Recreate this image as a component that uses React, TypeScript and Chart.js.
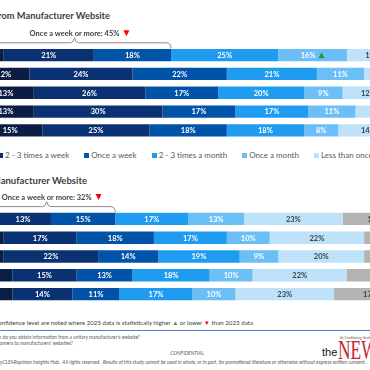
import React, { useEffect, useRef } from "react";
import { Chart, registerables } from "chart.js";

Chart.register(...registerables);

const FONT = "Lato, 'Open Sans', sans-serif";

// ---- series (shared by both charts) ----
const seriesNames = [
  "Daily",
  "2 - 3 times a week",
  "Once a week",
  "2 - 3 times a month",
  "Once a month",
  "Less than once a month",
  "Never",
];
const seriesColors = ["#0B1D44", "#0A3272", "#0053A6", "#1F9CF0", "#6CBEF7", "#BDE2FA", "#B3B3B3"];
const seriesLabelColors = ["#FFFFFF", "#FFFFFF", "#FFFFFF", "#FFFFFF", "#FFFFFF", "#404040", "#404040"];

// ---- top chart: obtain information from manufacturer website ----
const topCategories = ["Row 1", "Row 2", "Row 3", "Row 4", "Row 5"];
const topDaily = [6, 12, 13, 13, 15];
const topTwoThreeWeek = [21, 24, 26, 30, 25];
const topOnceWeek = [18, 22, 17, 17, 18];
const topTwoThreeMonth = [25, 21, 20, 17, 18];
const topOnceMonth = [16, 11, 9, 11, 8];
const topLessMonth = [12, 8, 12, 10, 14];
const topNever = [2, 2, 3, 2, 2];
const topMarks = [
  { series: 0, row: 0, dir: "down" },
  { series: 4, row: 0, dir: "up" },
];
const topBracketDir = "down";

// ---- bottom chart: refer customers to manufacturer website ----
const bottomCategories = ["Row 1", "Row 2", "Row 3", "Row 4", "Row 5"];
const bottomDaily = [4, 6, 6, 8, 8];
const bottomTwoThreeWeek = [13, 17, 22, 15, 14];
const bottomOnceWeek = [15, 18, 14, 13, 11];
const bottomTwoThreeMonth = [17, 17, 19, 18, 17];
const bottomOnceMonth = [13, 10, 9, 10, 10];
const bottomLessMonth = [23, 22, 20, 22, 23];
const bottomNever = [15, 10, 10, 14, 17];
const bottomMarks: { series: number; row: number; dir: string }[] = [];
const bottomBracketDir = "down";

const bracketText = "Once a week or more:";
const bracketSeriesCount = 3;

function drawTriangle(ctx: CanvasRenderingContext2D, x: number, y: number, dir: string, s: number) {
  ctx.save();
  ctx.beginPath();
  if (dir === "down") {
    ctx.moveTo(x, y - s / 2);
    ctx.lineTo(x + s, y - s / 2);
    ctx.lineTo(x + s / 2, y + s / 2);
    ctx.fillStyle = "#FF0000";
  } else {
    ctx.moveTo(x, y + s / 2);
    ctx.lineTo(x + s, y + s / 2);
    ctx.lineTo(x + s / 2, y - s / 2);
    ctx.fillStyle = "#1E9B3A";
  }
  ctx.closePath();
  ctx.fill();
  ctx.restore();
}

const labelPlugin = {
  id: "segLabels",
  afterDatasetsDraw(chart: any, _args: any, opts: any) {
    const ctx: CanvasRenderingContext2D = chart.ctx;
    ctx.save();
    ctx.font = `bold 7.5px ${FONT}`;
    ctx.textBaseline = "middle";
    ctx.textAlign = "left";
    chart.data.datasets.forEach((ds: any, di: number) => {
      const meta = chart.getDatasetMeta(di);
      meta.data.forEach((bar: any, i: number) => {
        const v = ds.data[i];
        const p = bar.getProps(["x", "y", "base"], true);
        const cx = (p.x + p.base) / 2;
        const text = `${v}%`;
        const mark = (opts.marks || []).find((m: any) => m.series === di && m.row === i);
        const tw = ctx.measureText(text).width;
        const tri = 6;
        const total = tw + (mark ? tri + 3 : 0);
        const sx = cx - total / 2;
        ctx.fillStyle = seriesLabelColors[di];
        ctx.fillText(text, sx, p.y + 0.5);
        if (mark) drawTriangle(ctx, sx + tw + 3, p.y, mark.dir, tri);
      });
    });
    ctx.restore();
  },
};

const bracketPlugin = {
  id: "bracket",
  afterDraw(chart: any, _args: any, opts: any) {
    const ctx: CanvasRenderingContext2D = chart.ctx;
    const xs = chart.scales.x;
    const first = chart.data.datasets
      .slice(0, bracketSeriesCount)
      .reduce((s: number, ds: any) => s + ds.data[0], 0);
    const x0 = xs.getPixelForValue(0);
    const x1 = xs.getPixelForValue(first);
    const mid = (x0 + x1) / 2;
    const top = chart.chartArea.top;
    const yl = top - 3;
    ctx.save();
    ctx.strokeStyle = "#8C8C8C";
    ctx.lineWidth = 1;
    ctx.beginPath();
    ctx.moveTo(x0, top + 2.5);
    ctx.quadraticCurveTo(x0, yl, x0 + 5, yl);
    ctx.lineTo(mid - 4, yl);
    ctx.quadraticCurveTo(mid - 1, yl, mid, top - 8);
    ctx.quadraticCurveTo(mid + 1, yl, mid + 4, yl);
    ctx.lineTo(x1 - 5, yl);
    ctx.quadraticCurveTo(x1, yl, x1, top + 2.5);
    ctx.stroke();
    ctx.font = `bold 7.5px ${FONT}`;
    ctx.textBaseline = "middle";
    ctx.textAlign = "center";
    ctx.fillStyle = "#404040";
    const text = `${bracketText} ${first}%`;
    const ty = top - 12.5;
    ctx.fillText(text, mid, ty);
    const tw = ctx.measureText(text).width;
    if (opts.dir) drawTriangle(ctx, mid + tw / 2 + 4, ty, opts.dir, 6);
    ctx.restore();
  },
};

type ChartProps = {
  categories: string[];
  values: number[][];
  marks: { series: number; row: number; dir: string }[];
  bracketDir: string;
  top: number;
  height: number;
  padTop: number;
  padBottom: number;
};

function StackedChart({ categories, values, marks, bracketDir, top, height, padTop, padBottom }: ChartProps) {
  const ref = useRef<HTMLCanvasElement>(null);
  useEffect(() => {
    const chart = new Chart(ref.current as HTMLCanvasElement, {
      type: "bar",
      data: {
        labels: categories,
        datasets: values.map((v, i) => ({
          label: seriesNames[i],
          data: v,
          backgroundColor: seriesColors[i],
          borderWidth: 0,
          barPercentage: 0.655,
          categoryPercentage: 1,
        })),
      },
      options: {
        indexAxis: "y",
        responsive: false,
        animation: false,
        devicePixelRatio: 1,
        layout: { padding: { top: padTop, bottom: padBottom, left: 0, right: 21 } },
        scales: {
          x: { stacked: true, min: 0, max: 100, display: false },
          y: { stacked: true, display: false },
        },
        plugins: {
          legend: { display: false },
          tooltip: { enabled: false },
          segLabels: { marks },
          bracket: { dir: bracketDir },
        } as any,
      },
      plugins: [labelPlugin, bracketPlugin],
    });
    return () => chart.destroy();
  }, []);
  return (
    <canvas
      ref={ref}
      width={450}
      height={height}
      style={{ position: "absolute", left: -22, top, width: 450, height }}
    />
  );
}

export default function App() {
  const textBase: React.CSSProperties = { position: "absolute", whiteSpace: "nowrap", fontFamily: FONT };
  const marker = (i: number) => (
    <span style={{ width: 5, height: 5, background: seriesColors[i], display: "inline-block" }} />
  );
  return (
    <div
      style={{
        position: "fixed",
        left: 0,
        top: 0,
        width: 370,
        height: 370,
        overflow: "hidden",
        background: "#FFFFFF",
        fontFamily: FONT,
      }}
    >
      <div style={{ ...textBase, right: 260, top: 10, fontSize: 9.3, lineHeight: "12px", fontWeight: 700, color: "#404040", textAlign: "right" }}>
        Frequency of Obtaining Information from Manufacturer Website
      </div>
      <StackedChart
        categories={topCategories}
        values={[topDaily, topTwoThreeWeek, topOnceWeek, topTwoThreeMonth, topOnceMonth, topLessMonth, topNever]}
        marks={topMarks}
        bracketDir={topBracketDir}
        top={24}
        height={120}
        padTop={21.8}
        padBottom={4.3}
      />
      <div style={{ ...textBase, left: -2, top: 150, fontSize: 8, lineHeight: "10px", color: "#595959", display: "flex", gap: 15 }}>
        <span style={{ position: "absolute", right: "calc(100% + 15px)", top: 0, display: "flex", alignItems: "center", gap: 2 }}>
          {marker(0)}
          {seriesNames[0]}
        </span>
        {seriesNames.slice(1).map((n, k) => (
          <span key={n} style={{ display: "flex", alignItems: "center", gap: 2 }}>
            {marker(k + 1)}
            {n}
          </span>
        ))}
      </div>
      <div style={{ ...textBase, right: 283, top: 175, fontSize: 9.5, lineHeight: "12px", fontWeight: 700, color: "#404040", textAlign: "right" }}>
        Frequency of Referring Customers to Manufacturer Website
      </div>
      <StackedChart
        categories={bottomCategories}
        values={[bottomDaily, bottomTwoThreeWeek, bottomOnceWeek, bottomTwoThreeMonth, bottomOnceMonth, bottomLessMonth, bottomNever]}
        marks={bottomMarks}
        bracketDir={bottomBracketDir}
        top={186}
        height={122}
        padTop={23.6}
        padBottom={4.6}
      />
      <div style={{ ...textBase, right: 117, top: 318, fontSize: 6.2, lineHeight: "10px", color: "#404040", textAlign: "right" }}>
        Differences at the 95% confidence level are noted where 2025 data is statistically higher{" "}
        <span style={{ color: "#1E9B3A" }}>▲</span> or lower <span style={{ color: "#FF0000" }}>▼</span> than 2023 data
      </div>
      <div style={{ position: "absolute", left: 0, top: 330, width: 370, height: 1, background: "#4F81BD" }} />
      <div style={{ ...textBase, right: 230, top: 334, fontSize: 4.8, lineHeight: "6px", color: "#595959", textAlign: "right" }}>
        Q1. How often do you obtain information from a unitary manufacturer's website?
      </div>
      <div style={{ ...textBase, right: 297, top: 340, fontSize: 4.8, lineHeight: "6px", color: "#595959", textAlign: "right" }}>
        Q2. How often do you refer customers to manufacturers' websites?
      </div>
      <div style={{ ...textBase, left: 137, width: 100, top: 350, fontSize: 5, lineHeight: "6px", color: "#595959", textAlign: "center", fontStyle: "italic" }}>
        CONFIDENTIAL
      </div>
      <div style={{ ...textBase, left: 0, top: 358.5, fontSize: 5, lineHeight: "6px", color: "#595959", fontStyle: "italic" }}>
        <span style={{ position: "absolute", right: "100%" }}>Copyright © 2025 The NEWS and Industr</span>
        yCLEARopinion Insights Hub.&nbsp; All rights reserved.&nbsp; Results of this study cannot be used in whole, or in part, for promotional literature or otherwise without express written consent.
      </div>
      <div style={{ ...textBase, left: 340, top: 336, fontSize: 3, lineHeight: "4px", color: "#595959" }}>
        Air Conditioning, Heating and Refrigeration
      </div>
      <div style={{ ...textBase, left: 322, top: 346, fontSize: 11, lineHeight: "12px", color: "#111111", fontFamily: "'Liberation Sans', sans-serif" }}>
        the
      </div>
      <div
        style={{
          ...textBase,
          left: 338,
          top: 336,
          fontSize: 28,
          lineHeight: "28px",
          color: "#C1272D",
          fontFamily: "'Liberation Serif', serif",
          transform: "scaleX(0.62)",
          transformOrigin: "left top",
        }}
      >
        NEWS
      </div>
    </div>
  );
}
